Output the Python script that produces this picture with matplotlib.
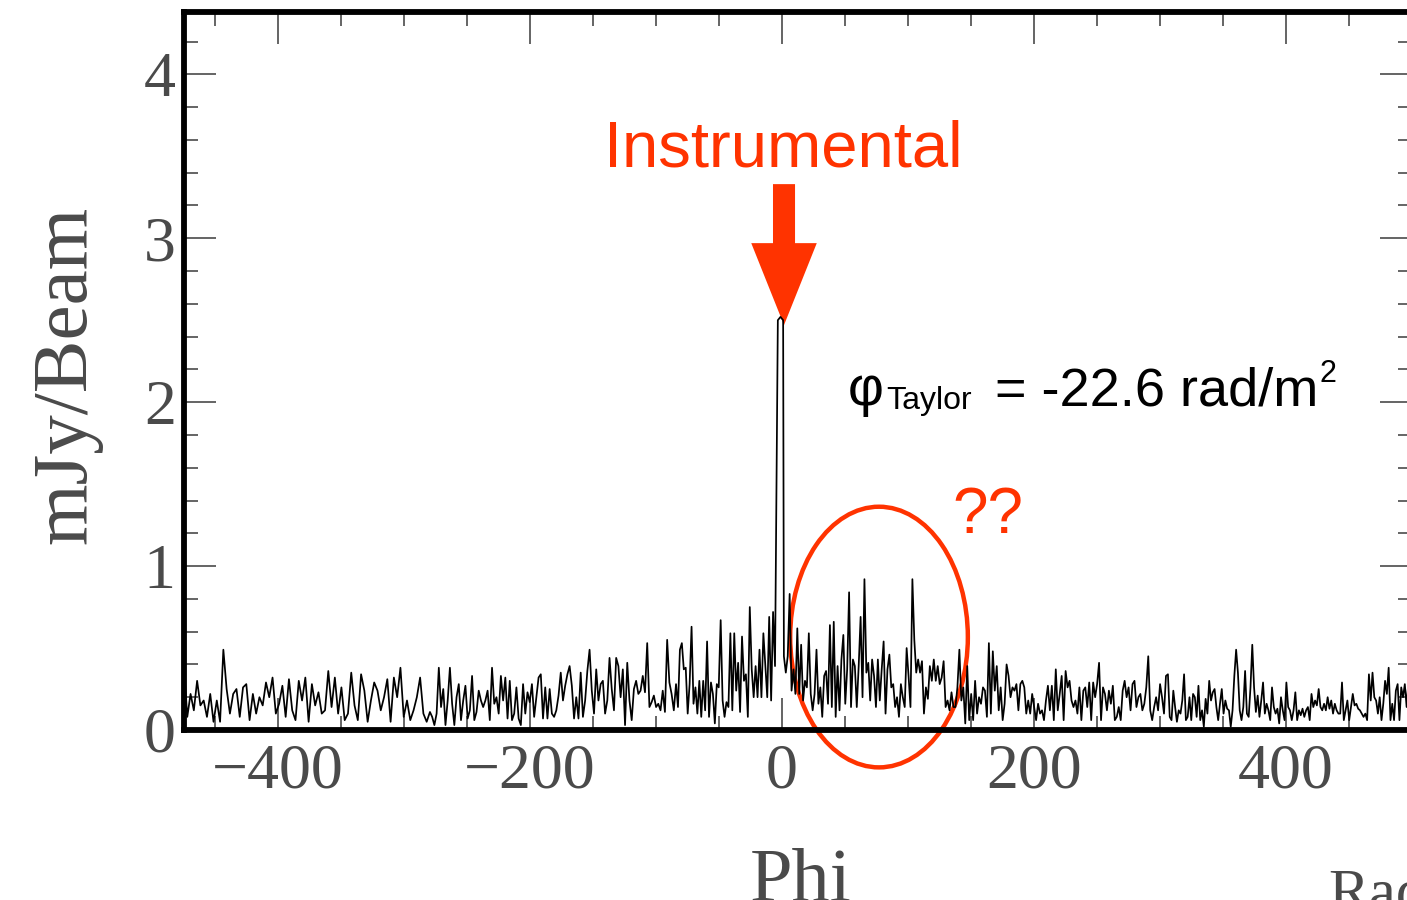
import numpy as np
import matplotlib.pyplot as plt
from matplotlib.patches import Ellipse

# Faraday spectrum (mJy/Beam)
seg1_phi = (-474.6, -279.4)
seg1 = [0.39, 0.08, 0.22, 0.12, 0.30, 0.15, 0.18, 0.08, 0.22, 0.05, 0.18, 0.05, 0.49, 0.25,
        0.10, 0.22, 0.25, 0.08, 0.26, 0.28, 0.06, 0.22, 0.10, 0.20, 0.15, 0.29, 0.20, 0.32,
        0.10, 0.16, 0.27, 0.08, 0.31, 0.12, 0.06, 0.30, 0.18, 0.32, 0.05, 0.28, 0.15, 0.23,
        0.10, 0.12, 0.36, 0.14, 0.32, 0.10, 0.26, 0.06, 0.10, 0.35, 0.15, 0.06, 0.34, 0.24,
        0.05, 0.18, 0.29, 0.24, 0.12, 0.20, 0.31, 0.05, 0.32, 0.20, 0.38, 0.08, 0.18, 0.06,
        0.12, 0.20, 0.32, 0.10, 0.05]

seg2_phi = (-279.4, -84.1)
seg2 = [0.11, 0.08, 0.03, 0.10, 0.38, 0.14, 0.25, 0.03, 0.18, 0.38, 0.16, 0.03, 0.20, 0.28,
        0.06, 0.18, 0.27, 0.07, 0.12, 0.33, 0.06, 0.11, 0.24, 0.18, 0.14, 0.18, 0.24, 0.06,
        0.38, 0.16, 0.20, 0.10, 0.33, 0.18, 0.32, 0.07, 0.30, 0.06, 0.10, 0.26, 0.07, 0.03,
        0.28, 0.10, 0.23, 0.17, 0.28, 0.08, 0.20, 0.32, 0.34, 0.07, 0.26, 0.07, 0.25, 0.10,
        0.08, 0.12, 0.21, 0.35, 0.18, 0.27, 0.34, 0.39, 0.27, 0.07, 0.20, 0.07, 0.35, 0.08,
        0.18, 0.36, 0.49, 0.24, 0.10, 0.37, 0.18, 0.28, 0.30, 0.10, 0.18, 0.44, 0.25, 0.12,
        0.44, 0.39, 0.20, 0.37, 0.03, 0.41, 0.18, 0.06, 0.25, 0.30, 0.22, 0.24, 0.33, 0.23,
        0.53, 0.14, 0.17, 0.21, 0.14, 0.16, 0.12, 0.24, 0.11, 0.55, 0.29, 0.22, 0.12]

seg3a_phi = (-84.1, -4.0)
seg3a = [0.28, 0.14, 0.49, 0.53, 0.37, 0.38, 0.10, 0.28, 0.63, 0.16, 0.26, 0.10, 0.30, 0.08,
         0.30, 0.12, 0.54, 0.08, 0.29, 0.22, 0.04, 0.28, 0.26, 0.67, 0.18, 0.08, 0.17, 0.14,
         0.59, 0.12, 0.59, 0.24, 0.41, 0.11, 0.57, 0.30, 0.34, 0.08, 0.75, 0.37, 0.20, 0.39,
         0.20, 0.49, 0.20, 0.59, 0.39, 0.20, 0.69, 0.18, 0.72, 0.39]

# the instrumental peak
spike_phi = [-3.3, -1.2, 0.9]
spike_val = [2.50, 2.52, 2.50]

seg3b_phi = (1.5, 111.1)
seg3b = [0.45, 0.35, 0.45, 0.83, 0.24, 0.37, 0.22, 0.62, 0.22, 0.52, 0.18, 0.30, 0.26, 0.59,
         0.22, 0.12, 0.22, 0.49, 0.16, 0.26, 0.08, 0.33, 0.36, 0.16, 0.64, 0.14, 0.66, 0.08,
         0.39, 0.12, 0.43, 0.58, 0.16, 0.37, 0.84, 0.14, 0.43, 0.39, 0.14, 0.39, 0.69, 0.20,
         0.92, 0.35, 0.41, 0.18, 0.43, 0.33, 0.14, 0.43, 0.18, 0.37, 0.54, 0.10, 0.37, 0.46,
         0.26, 0.28, 0.14, 0.20, 0.08, 0.28, 0.20, 0.14, 0.50, 0.33, 0.14, 0.92, 0.55, 0.35,
         0.43, 0.35]

seg4_phi = (111.1, 306.3)
seg4 = [0.42, 0.10, 0.26, 0.19, 0.39, 0.30, 0.43, 0.30, 0.39, 0.28, 0.32, 0.42, 0.14, 0.18,
        0.12, 0.23, 0.14, 0.14, 0.26, 0.49, 0.18, 0.26, 0.04, 0.39, 0.06, 0.22, 0.06, 0.30,
        0.10, 0.20, 0.16, 0.26, 0.24, 0.08, 0.53, 0.10, 0.48, 0.24, 0.39, 0.12, 0.26, 0.06,
        0.16, 0.40, 0.33, 0.20, 0.26, 0.24, 0.28, 0.12, 0.28, 0.30, 0.26, 0.10, 0.18, 0.10,
        0.22, 0.14, 0.06, 0.16, 0.10, 0.12, 0.06, 0.18, 0.27, 0.12, 0.27, 0.06, 0.37, 0.12,
        0.22, 0.33, 0.06, 0.36, 0.26, 0.30, 0.18, 0.14, 0.18, 0.10, 0.26, 0.06, 0.24, 0.26,
        0.14, 0.29, 0.06, 0.29, 0.20, 0.28, 0.41, 0.06, 0.26, 0.22, 0.12, 0.24, 0.16, 0.27,
        0.06, 0.08, 0.14, 0.06, 0.24, 0.30, 0.20, 0.26, 0.12, 0.28, 0.30, 0.14, 0.20, 0.22,
        0.12, 0.16, 0.26, 0.45, 0.12, 0.06, 0.14, 0.20, 0.12, 0.28, 0.20, 0.10, 0.33]

seg5_phi = (306.3, 500.0)
seg5 = [0.34, 0.08, 0.06, 0.24, 0.14, 0.05, 0.12, 0.10, 0.18, 0.34, 0.06, 0.08, 0.20, 0.06,
        0.22, 0.20, 0.08, 0.27, 0.06, 0.12, 0.02, 0.19, 0.10, 0.30, 0.18, 0.23, 0.25, 0.14,
        0.06, 0.16, 0.25, 0.10, 0.18, 0.13, 0.12, 0.02, 0.12, 0.33, 0.49, 0.35, 0.12, 0.06,
        0.14, 0.36, 0.10, 0.08, 0.26, 0.52, 0.26, 0.11, 0.21, 0.08, 0.18, 0.29, 0.10, 0.16,
        0.12, 0.06, 0.26, 0.14, 0.10, 0.13, 0.04, 0.20, 0.12, 0.06, 0.29, 0.14, 0.12, 0.06,
        0.12, 0.23, 0.06, 0.12, 0.09, 0.13, 0.08, 0.12, 0.14, 0.06, 0.22, 0.14, 0.18, 0.15,
        0.25, 0.14, 0.12, 0.16, 0.12, 0.20, 0.13, 0.18, 0.10, 0.16, 0.12, 0.10, 0.10, 0.29,
        0.06, 0.12, 0.18, 0.06, 0.14, 0.22, 0.15, 0.16, 0.13, 0.12, 0.10, 0.08, 0.10, 0.06,
        0.34, 0.18, 0.35, 0.20, 0.18, 0.10, 0.20, 0.06, 0.16, 0.30, 0.22, 0.38, 0.06, 0.16,
        0.06, 0.24, 0.28, 0.06, 0.26, 0.20, 0.28, 0.14, 0.30, 0.26]

x_major = [-400, -200, 0, 200, 400]
y_major = [0, 1, 2, 3, 4]

# put the pieces on their phi ranges
pieces = [(seg1_phi, seg1), (seg2_phi, seg2), (seg3a_phi, seg3a), None,
          (seg3b_phi, seg3b), (seg4_phi, seg4), (seg5_phi, seg5)]
phi, amp = [], []
for p in pieces:
    if p is None:
        phi += spike_phi
        amp += spike_val
        continue
    (a, b), v = p
    phi += list(np.linspace(a, b, len(v), endpoint=False))
    amp += v

red = '#ff3300'
grey = '#4a4a4a'
W, H = 1407, 900

fig = plt.figure(figsize=(14.07, 9.0), dpi=100)
xmin, xmax = -474.6, 500.0
ax = fig.add_axes([184 / W, 170 / H, (xmax - xmin) * 1.26 / W, 718 / H])
ax.plot(phi, amp, color='black', lw=1.25)
ax.set_xlim(xmin, xmax)
ax.set_ylim(0, 4.38)

for s in ['left', 'bottom', 'top', 'right']:
    ax.spines[s].set_linewidth(4.2)

ax.set_xticks(x_major)
ax.set_xticks(np.arange(-450, 500, 50), minor=True)
ax.set_yticks(y_major)
ax.set_yticks(np.arange(0, 4.4, 0.2), minor=True)
ax.tick_params(which='both', direction='in', top=True, right=True, color=grey, width=1.2)
ax.tick_params(which='major', length=23)
ax.tick_params(which='minor', length=10)
ax.tick_params(axis='x', which='major', pad=10)
ax.tick_params(axis='y', which='major', pad=6)
for lab in ax.get_xticklabels() + ax.get_yticklabels():
    lab.set_family('Liberation Serif')
    lab.set_fontsize(46)
    lab.set_color(grey)

fig.text(67 / W, 1 - 375 / H, 'mJy/Beam', rotation=90, ha='center', va='center',
         family='Liberation Serif', fontsize=57, color=grey)
fig.text(801 / W, 1 - 848 / H, 'Phi', ha='center', va='top',
         family='Liberation Serif', fontsize=55, color=grey)
fig.text(1328 / W, 1 - 868 / H, 'Rad/m²', ha='left', va='top',
         family='Liberation Serif', fontsize=44, color=grey)

# annotations
ax.text(0.8, 3.54, 'Instrumental', ha='center', va='center', color=red,
        family='Liberation Sans', fontsize=47)
ax.arrow(1.6, 3.33, 0, 2.47 - 3.33, width=17.5, head_width=52, head_length=0.5,
         length_includes_head=True, color=red, lw=0)
ax.text(52.4, 1.98, 'φ', ha='left', va='baseline', family='Liberation Sans', fontsize=40)
ax.text(82.5, 1.96, 'Taylor', ha='left', va='baseline', family='Liberation Sans', fontsize=23)
main = ax.text(169.0, 1.98, '= -22.6 rad/m', ha='left', va='baseline',
               family='Liberation Sans', fontsize=39)
ax.annotate('2', xy=(1, 0.55), xycoords=main, xytext=(1, 0), textcoords='offset points',
            ha='left', va='bottom', family='Liberation Sans', fontsize=22)
ax.text(135.0, 1.2, '??', ha='left', va='baseline', color=red, family='Liberation Sans', fontsize=46)
ax.add_patch(Ellipse((77, 0.567), 141, 1.59, fill=False, edgecolor=red, lw=3.2, clip_on=False))

fig.savefig('out.png', dpi=100)
